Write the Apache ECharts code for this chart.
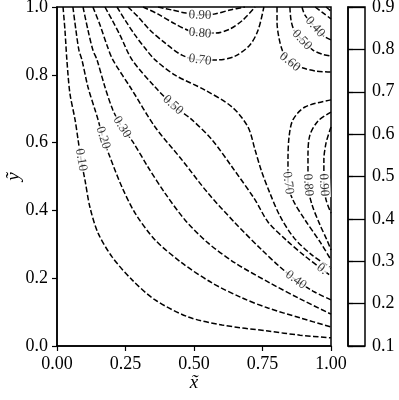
<!DOCTYPE html>
<html>
<head>
<meta charset="utf-8">
<script src="https://cdn.jsdelivr.net/npm/echarts@6/dist/echarts.min.js"></script>
<style>
  html, body { margin: 0; padding: 0; background: #fff; }
  #main { width: 399px; height: 400px; }
</style>
</head>
<body>
<div id="main"></div>
<script>
// contour lines, [x~, y~] points
const c10 = [[0.022,1.0],[0.029,0.932],[0.036,0.844],[0.047,0.746],[0.066,0.667],[0.077,0.608],[0.088,0.549],[0.102,0.490],[0.120,0.410],[0.150,0.333],[0.201,0.263],[0.274,0.195],[0.358,0.136],[0.478,0.086],[0.602,0.062],[0.770,0.044],[0.887,0.032],[1.0,0.024]];
const c20 = [[0.058,1.0],[0.069,0.932],[0.080,0.873],[0.091,0.844],[0.113,0.764],[0.139,0.696],[0.150,0.667],[0.168,0.614],[0.193,0.558],[0.237,0.469],[0.285,0.392],[0.358,0.313],[0.456,0.245],[0.566,0.186],[0.675,0.142],[0.770,0.112],[0.887,0.083],[1.0,0.056]];
const c30 = [[0.095,1.0],[0.113,0.932],[0.131,0.873],[0.146,0.844],[0.175,0.764],[0.204,0.696],[0.237,0.646],[0.277,0.602],[0.332,0.528],[0.394,0.451],[0.467,0.372],[0.551,0.304],[0.650,0.245],[0.777,0.186],[0.887,0.139],[1.0,0.094]];
const c40 = [[0.131,1.0],[0.157,0.947],[0.182,0.888],[0.204,0.844],[0.274,0.755],[0.358,0.646],[0.456,0.549],[0.551,0.451],[0.650,0.363],[0.748,0.283],[0.810,0.236],[0.872,0.195],[0.934,0.162],[1.0,0.136]];
const c50 = [[0.175,1.0],[0.201,0.962],[0.230,0.917],[0.274,0.844],[0.358,0.764],[0.423,0.711],[0.493,0.667],[0.566,0.608],[0.639,0.528],[0.723,0.431],[0.770,0.366],[0.836,0.313],[0.905,0.265],[0.967,0.227],[1.0,0.206]];
const c60 = [[0.219,1.0],[0.248,0.962],[0.285,0.917],[0.321,0.879],[0.358,0.844],[0.431,0.799],[0.540,0.755],[0.639,0.705],[0.697,0.646],[0.723,0.578],[0.745,0.519],[0.777,0.451],[0.814,0.383],[0.865,0.319],[0.931,0.268],[1.0,0.230]];
// top right corner
const c60b = [[0.803,1.0],[0.803,0.956],[0.810,0.909],[0.825,0.867],[0.850,0.838],[0.898,0.820],[0.945,0.811],[1.0,0.808]];
const c50b = [[0.850,1.0],[0.854,0.962],[0.865,0.932],[0.894,0.903],[0.934,0.873],[0.967,0.861],[1.0,0.855]];
const c40b = [[0.894,1.0],[0.905,0.976],[0.942,0.941],[0.974,0.914],[1.0,0.903]];
const c30b = [[0.942,1.0],[0.967,0.985],[1.0,0.965]];
const c20b = [[0.982,1.0],[1.0,0.988]];
// hump on the top edge
const c70a = [[0.259,1.0],[0.296,0.971],[0.339,0.932],[0.394,0.894],[0.456,0.858],[0.522,0.844],[0.588,0.844],[0.650,0.855],[0.704,0.888],[0.734,0.932],[0.755,1.0]];
const c80a = [[0.314,1.0],[0.369,0.979],[0.431,0.950],[0.485,0.929],[0.522,0.923],[0.577,0.923],[0.631,0.935],[0.679,0.962],[0.723,1.0]];
const c90a = [[0.369,1.0],[0.420,0.991],[0.471,0.982],[0.522,0.976],[0.573,0.979],[0.631,0.991],[0.686,1.0]];
// hump on the right edge
const c70b = [[1.0,0.726],[0.905,0.705],[0.861,0.667],[0.847,0.617],[0.843,0.549],[0.843,0.481],[0.861,0.431],[0.905,0.372],[0.960,0.307],[1.0,0.254]];
const c80b = [[1.0,0.690],[0.953,0.664],[0.923,0.622],[0.916,0.563],[0.916,0.475],[0.931,0.416],[0.960,0.357],[0.985,0.313],[1.0,0.283]];
const c90b = [[1.0,0.646],[0.982,0.599],[0.974,0.549],[0.974,0.475],[0.982,0.431],[1.0,0.392]];

// inline labels: [line, point index, text]
const clabels = [
  [c10, 6, '0.10'], [c20, 7, '0.20'], [c30, 6, '0.30'], [c50, 5, '0.50'],
  [c70a, 5, '0.70'], [c80a, 4, '0.80'], [c90a, 3, '0.90'],
  [c60b, 4, '0.60'], [c50b, 3, '0.50'], [c40b, 2, '0.40'],
  [c70b, 5, '0.70'], [c80b, 4, '0.80'], [c90b, 3, '0.90'],
  [c40, 11, '0.40'], [c50, 13, '0.']
];

// colorbar levels
const levels = [0.1, 0.2, 0.3, 0.4, 0.5, 0.6, 0.7, 0.8, 0.9];

const lines = [c10, c20, c30, c40, c50, c60, c60b, c50b, c40b, c30b, c20b, c70a, c80a, c90a, c70b, c80b, c90b];

const font = 'Liberation Serif';
let myChart = echarts.init(document.getElementById('main'));

myChart.setOption({
  animation: false,
  grid: [
    { left: 57, right: 68, top: 7, bottom: 54, outerBoundsMode: 'none', containLabel: false,
      show: true, borderColor: '#000', borderWidth: 1.5 },
    { left: 348, right: 34, top: 7, bottom: 54, outerBoundsMode: 'none', containLabel: false,
      show: true, borderColor: '#000', borderWidth: 1.5 }
  ],
  xAxis: [
    {
      gridIndex: 0, type: 'value', min: 0, max: 1, interval: 0.25,
      name: 'x\u0303', nameLocation: 'middle', nameGap: 27, nameMoveOverlap: false,
      nameTextStyle: { fontFamily: font, fontStyle: 'italic', fontSize: 19, color: '#000' },
      axisLine: { lineStyle: { color: '#000', width: 1.5 } },
      axisTick: { length: 5, lineStyle: { color: '#000', width: 1.2 } },
      axisLabel: { margin: 9, fontFamily: font, fontSize: 18, color: '#000', formatter: v => v.toFixed(2) },
      splitLine: { show: false }
    },
    { gridIndex: 1, type: 'value', min: 0, max: 1, show: false }
  ],
  yAxis: [
    {
      gridIndex: 0, type: 'value', min: 0, max: 1, interval: 0.2,
      name: '\u1EF9', nameLocation: 'middle', nameGap: 34, nameMoveOverlap: false,
      nameTextStyle: { fontFamily: font, fontStyle: 'italic', fontSize: 19, color: '#000' },
      axisLine: { lineStyle: { color: '#000', width: 1.5 } },
      axisTick: { length: 5, lineStyle: { color: '#000', width: 1.2 } },
      axisLabel: { margin: 9, fontFamily: font, fontSize: 18, color: '#000', formatter: v => v.toFixed(1) },
      splitLine: { show: false }
    },
    {
      gridIndex: 1, type: 'value', position: 'right',
      min: levels[0], max: levels[levels.length - 1], interval: 0.1,
      axisLine: { show: true, lineStyle: { color: '#000', width: 1.5 } },
      axisTick: { show: true, length: 5, lineStyle: { color: '#000', width: 1.2 } },
      axisLabel: { margin: 7, fontFamily: font, fontSize: 18, color: '#000', formatter: v => v.toFixed(1) },
      splitLine: { show: true, lineStyle: { color: '#000', width: 1.3 } }
    }
  ],
  series: lines.map(d => ({
    type: 'line',
    xAxisIndex: 0, yAxisIndex: 0,
    data: d,
    showSymbol: false,
    smooth: 0.3,
    lineStyle: { color: '#000', width: 1.5, type: [5.5, 2.4] },
    z: 2
  }))
});

// label angle follows the line at the point
let labelData = clabels.map(([d, i, txt]) => {
  let a = myChart.convertToPixel({ gridIndex: 0 }, d[Math.max(i - 1, 0)]);
  let b = myChart.convertToPixel({ gridIndex: 0 }, d[Math.min(i + 1, d.length - 1)]);
  let ang = Math.atan2(-(b[1] - a[1]), b[0] - a[0]) * 180 / Math.PI;
  if (ang >= 90) ang -= 180;
  if (ang < -90) ang += 180;
  return { value: d[i], label: { formatter: txt, rotate: ang } };
});

myChart.setOption({
  series: lines.map(() => ({})).concat([{
    type: 'scatter',
    xAxisIndex: 0, yAxisIndex: 0,
    data: labelData,
    symbolSize: 1,
    itemStyle: { color: 'rgba(0,0,0,0)' },
    label: {
      show: true, position: 'inside',
      fontFamily: font, fontSize: 13, color: '#000',
      backgroundColor: '#fff', padding: [0, 1]
    },
    z: 5
  }])
});
</script>
</body>
</html>
